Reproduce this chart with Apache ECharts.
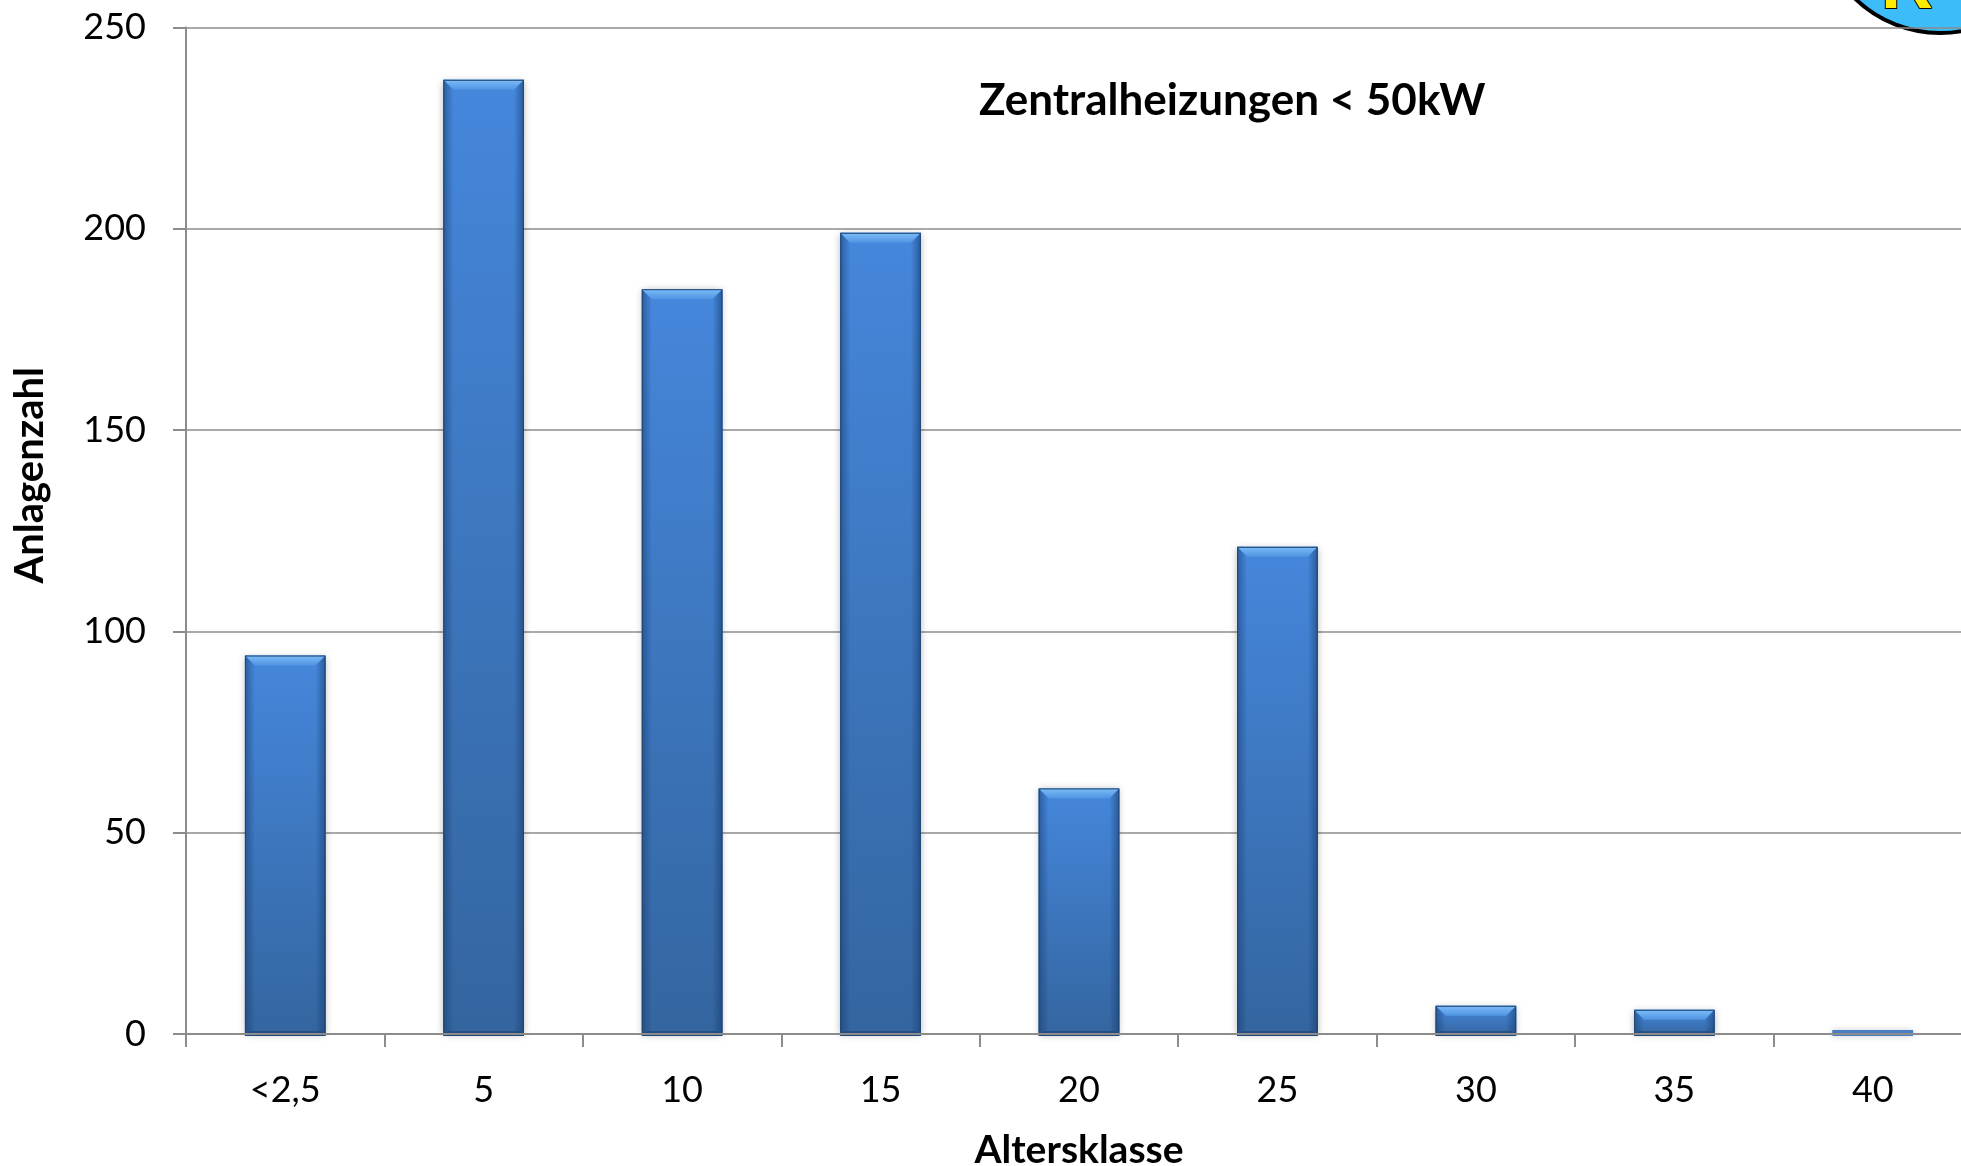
<!DOCTYPE html>
<html><head><meta charset="utf-8">
<style>html,body{margin:0;padding:0;background:#fff;overflow:hidden}#c{width:1961px;height:1166px}</style>
<script src="https://cdn.jsdelivr.net/npm/echarts@6/dist/echarts.min.js"></script>
</head><body><div id="c"></div>
<script>
const categories = ['<2,5','5','10','15','20','25','30','35','40'];
const anlagenzahl = [94,237,185,199,61,121,7,6,1];
const yTicks = {min:0,max:250,interval:50};
const chartTitle = 'Zentralheizungen < 50kW';
const xName = 'Altersklasse';
const yName = 'Anlagenzahl';
const FONT = 'Lato';
const AXIS = '#8c8c8c';
const GAP = 0.594;
const chart = echarts.init(document.getElementById('c'),null,{renderer:'canvas'});
const grad = (x,y,x2,y2,a,b)=>new echarts.graphic.LinearGradient(x,y,x2,y2,[{offset:0,color:a},{offset:1,color:b}]);
function bevel(params,api){
  const i=api.value(0), top=api.coord([i,api.value(1)]), base=api.coord([i,0]);
  const w=api.size([1,0])[0]*(1-GAP), l=top[0]-w/2, r=top[0]+w/2, t=top[1], b=base[1]+2, h=b-t;
  if(h<10) return {type:'group',children:[{type:'rect',shape:{x:l,y:t,width:w,height:h},style:{fill:'#4a7fc4'}}]};
  const d=Math.min(10,h/2.6), kids=[];
  kids.push({type:'rect',shape:{x:l,y:t,width:w,height:h},style:{fill:grad(0,0,0,1,'#4587dc','#34659f')}});
  kids.push({type:'rect',shape:{x:l,y:t,width:10,height:h},style:{fill:grad(0,0,1,0,'rgba(24,60,110,.55)','rgba(24,60,110,0)')}});
  kids.push({type:'rect',shape:{x:r-10,y:t,width:10,height:h},style:{fill:grad(0,0,1,0,'rgba(24,60,110,0)','rgba(24,60,110,.6)')}});
  kids.push({type:'polygon',shape:{points:[[l,t],[r,t],[r-d,t+d],[l+d,t+d]]},style:{fill:grad(0,0,0,1,'#7cbcf8','#4f94e2')}});
  kids.push({type:'polygon',shape:{points:[[l,b],[r,b],[r-d*.5,b-d*.5],[l+d*.5,b-d*.5]]},style:{fill:'rgba(24,55,100,.45)'}});
  kids.push({type:'rect',shape:{x:l+.5,y:t+.5,width:w-1,height:h-1},style:{fill:'none',stroke:'#1f4674',lineWidth:1}});
  return {type:'group',children:kids};
}
chart.setOption({
  animation:false,
  backgroundColor:'#fff',
  title:{text:chartTitle,left:974,top:74,textStyle:{fontFamily:FONT,fontWeight:'bold',fontSize:44,color:'#000'}},
  grid:{left:186,top:27.5,width:1786,height:1006.5,containLabel:false,outerBoundsMode:'none'},
  graphic:[
    {type:'circle',z:-1,shape:{cx:1940,cy:-89,r:122},style:{fill:'#3cbcf8',stroke:'#000',lineWidth:4}},
    {type:'text',z:-1,x:1907,y:24,style:{text:'R',fontFamily:'Liberation Sans',fontWeight:'bold',fontSize:72,fill:'#ffeb00',stroke:'#000',lineWidth:2,align:'center',verticalAlign:'bottom'}}
  ],
  xAxis:{type:'category',data:categories,z:6,name:xName,nameLocation:'middle',nameGap:97,
    nameTextStyle:{fontFamily:FONT,fontWeight:'bold',fontSize:39,color:'#000'},
    axisLine:{show:true,lineStyle:{color:AXIS,width:2}},
    axisTick:{show:true,alignWithLabel:false,length:13,lineStyle:{color:AXIS,width:2}},
    axisLabel:{fontFamily:FONT,fontSize:36,color:'#000',margin:38,interval:0},
    splitLine:{show:false}},
  yAxis:{type:'value',min:yTicks.min,max:yTicks.max,interval:yTicks.interval,z:1,name:yName,nameLocation:'middle',nameGap:136,
    nameTextStyle:{fontFamily:FONT,fontWeight:'bold',fontSize:40,color:'#000',padding:[0,0,0,111]},
    axisLine:{show:true,lineStyle:{color:AXIS,width:2}},
    axisTick:{show:true,length:13,lineStyle:{color:AXIS,width:2}},
    axisLabel:{fontFamily:FONT,fontSize:36,color:'#000',margin:40},
    splitLine:{show:true,lineStyle:{color:AXIS,width:1.6}}},
  series:[
    {type:'bar',name:yName,data:anlagenzahl,barCategoryGap:(GAP*100)+'%',z:2,
      itemStyle:{color:grad(0,0,0,1,'#4587dc','#34659f'),shadowColor:'rgba(0,0,0,.28)',shadowBlur:7,shadowOffsetY:1}},
    {type:'custom',name:'bevel',silent:true,z:3,renderItem:bevel,clip:false,
      data:anlagenzahl.map((v,i)=>[i,v]),encode:{x:0,y:1},tooltip:{show:false}}
  ]
});
</script></body></html>
